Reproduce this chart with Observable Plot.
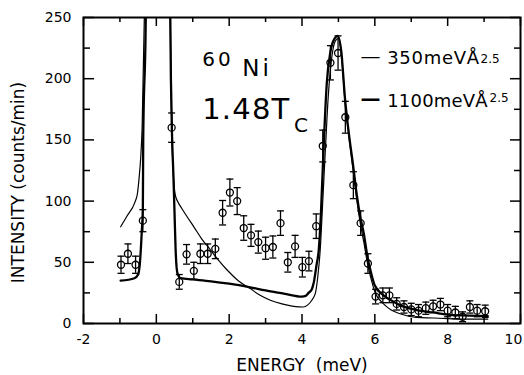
<!DOCTYPE html>
<html><head><meta charset="utf-8">
<script src="https://cdn.jsdelivr.net/npm/d3@7"></script>
<script src="https://cdn.jsdelivr.net/npm/@observablehq/plot@0.6"></script>
<style>body{margin:0;background:#fff} #chart svg{font-family:"DejaVu Sans",sans-serif}</style>
</head><body><div id="chart"></div>
<script>
// measured points (energy meV, intensity counts/min, error)
const energy = [-0.97,-0.78,-0.57,-0.37,0.42,0.63,0.83,1.03,1.21,1.41,1.62,1.82,2.02,2.22,2.40,2.60,2.80,3.00,3.20,3.41,3.61,3.81,4.01,4.19,4.39,4.57,4.78,4.99,5.19,5.41,5.61,5.81,6.02,6.22,6.40,6.60,6.80,7.00,7.20,7.40,7.60,7.80,8.00,8.21,8.41,8.61,8.81,9.03];
const intensity = [48,57,48,84,160,34,56.5,43,57,57,61,90.5,107,100,78,72,66.5,61.5,62.5,82,50,63,46,51,79.5,145,213,221,168.5,113,82,49,22,23,23,16,13.5,11.5,10.5,12.5,14,15.5,10.5,9,5.5,13.5,10.5,10];
const errors = [7,8,7,9,12,6,8,7,8,8,8,10,11,11,10,9,9,9,9,10,8,9,8,8,10,13,14,14,13,11,10,8,6,6,6,5,5,5,5,5,5,5,5,5,4,5,5,5];

// model curves: 350 meV Å^2.5 (thin) and 1100 meV Å^2.5 (thick)
const thinLeftX = [-0.98,-0.8,-0.59,-0.52,-0.47,-0.43,-0.39,-0.33,-0.30];
const thinLeftY = [79,88,99,106,120,135,160,250,320];
const thinRightX = [0.36,0.40,0.43,0.47,0.52,0.58,0.7,0.85,1.03,1.25,1.49,1.7,1.95,2.25,2.58,2.85,3.13,3.45,3.77,4.04,4.15,4.27,4.37,4.44,4.5,4.57,4.64,4.72,4.82,4.92,5.0,5.08,5.18,5.3,5.4,5.5,5.6,5.7,5.8,5.9,6.0,6.24,6.45,6.69,7.15,7.6,8.0,8.5,9.1];
const thinRightY = [320,200,150,120,105,100,94,87,79,69,60,52,43.5,35,28.5,23,19,16,14,13.5,15,19,25,40,60,100,141,185,218,231,233,220,182,150,126,102,82,66,49,36,26,16,11,8,5,4.5,4,3.5,3.5];
const thickLeftX = [-0.98,-0.6,-0.5,-0.45,-0.4,-0.37,-0.36,-0.29,-0.27];
const thickLeftY = [35,37,40,50,75,95,150,250,320];
const thickRightX = [0.36,0.40,0.43,0.47,0.50,0.53,0.58,0.67,1.0,1.5,2.0,2.58,3.0,3.5,4.0,4.1,4.18,4.27,4.32,4.4,4.46,4.52,4.59,4.68,4.78,4.9,4.98,5.08,5.18,5.3,5.4,5.5,5.6,5.7,5.8,5.9,6.0,6.24,6.5,6.69,7.15,7.6,8.06,8.6,9.1];
const thickRightY = [320,200,155,120,90,60,41,37,36,34.5,32.5,29.5,27,24.5,22,22.5,25,28,33,48,60,90,141,196,222,233,235,222,184,152,130,106,87,73,54,41,31,23,18,15,11,9,7,6.5,6];

// ticks and labels
const xMajor = [-2,0,2,4,6,8,10];
const xMinor = [-1,1,3,5,7,9];
const yMajor = [0,50,100,150,200,250];
const yMinor = [25,75,125,175,225];

const points = energy.map((x,i)=>({x, y: intensity[i], e: errors[i]}));
const curve = (xs, ys, s) => xs.map((x,i)=>({x, y: ys[i], s}));
const thin = [...curve(thinLeftX, thinLeftY, "L"), ...curve(thinRightX, thinRightY, "R")];
const thick = [...curve(thickLeftX, thickLeftY, "L"), ...curve(thickRightX, thickRightY, "R")];

const W=524, H=375, mL=83, mR=4, mT=17, mB=52;
const fw = W-mL-mR, fh = H-mT-mB;
const capSymbol = {draw(ctx, size){const r=Math.sqrt(size/Math.PI); ctx.moveTo(-r,0); ctx.lineTo(r,0);}};
const label = (t, dx, dy, size, extra={}) => Plot.text([t], {text: d=>d, frameAnchor:"top-left", dx, dy, fontSize: size, textAnchor:"start", lineAnchor:"bottom", fill:"black", ...extra});
const lastX = xMajor[xMajor.length-1];

const chart = Plot.plot({
  width: W, height: H,
  marginLeft: mL, marginRight: mR, marginTop: mT, marginBottom: mB,
  style: {fontFamily: "DejaVu Sans", fontSize: "14px", background: "white", color: "black"},
  x: {domain: [-2, 10]},
  y: {domain: [0, 250]},
  marks: [
    Plot.axisX(xMajor.filter(d=>d!==lastX), {tickSize: 0, tickPadding: 11, label: null, tickFormat: d=>String(d), fontSize: 14}),
    Plot.axisX([lastX], {tickSize: 0, tickPadding: 11, label: null, tickFormat: d=>String(d), fontSize: 14, dx: -7}),
    Plot.axisY(yMajor, {tickSize: 0, tickPadding: 12, label: null, tickFormat: d=>String(d), fontSize: 14}),
    Plot.ruleX(xMajor, {insetTop: fh-9, strokeWidth: 1.5}),
    Plot.ruleX(xMinor, {insetTop: fh-5, strokeWidth: 1.5}),
    Plot.ruleX(xMajor, {insetBottom: fh-9, strokeWidth: 1.5}),
    Plot.ruleX(xMinor, {insetBottom: fh-5, strokeWidth: 1.5}),
    Plot.ruleY(yMajor, {insetRight: fw-11, strokeWidth: 1.5}),
    Plot.ruleY(yMinor, {insetRight: fw-7, strokeWidth: 1.5}),
    Plot.ruleY(yMajor, {insetLeft: fw-10, strokeWidth: 1.5}),
    Plot.ruleY(yMinor, {insetLeft: fw-6, strokeWidth: 1.5}),
    Plot.frame({stroke: "black", strokeWidth: 2}),
    Plot.line(thin, {x:"x", y:"y", z:"s", stroke:"black", strokeWidth:1.2, curve:"monotone-x", clip:true}),
    Plot.line(thick, {x:"x", y:"y", z:"s", stroke:"black", strokeWidth:2.3, curve:"monotone-x", clip:true}),
    Plot.ruleX(points, {x:"x", y1: d=>d.y-d.e, y2: d=>d.y+d.e, stroke:"black", strokeWidth:1.3}),
    Plot.dot(points, {x:"x", y: d=>d.y+d.e, symbol: capSymbol, r: 3.5, stroke:"black", strokeWidth:1.3}),
    Plot.dot(points, {x:"x", y: d=>d.y-d.e, symbol: capSymbol, r: 3.5, stroke:"black", strokeWidth:1.3}),
    Plot.dot(points, {x:"x", y:"y", r:3.5, stroke:"black", strokeWidth:1.3, fill:"none"}),
    label("60", 118.7, 48, 20),
    label("Ni", 158.7, 58, 23),
    label("1.48T", 118.7, 101, 29),
    label("C", 210.5, 114.7, 20),
    label("—", 277, 39, 20, {lineAnchor:"middle"}),
    label("—", 277, 81.3, 20, {lineAnchor:"middle", fontWeight:"bold"}),
    label("350meVÅ", 303.7, 46.3, 18),
    label("2.5", 397, 45, 12),
    label("1100meVÅ", 303.7, 89, 18),
    label("2.5", 406, 84, 12),
    Plot.text(["ENERGY  (meV)"], {text: d=>d, frameAnchor:"bottom", dy: 47, lineAnchor:"bottom", textAnchor:"middle", fontSize: 17, fill:"black"}),
    Plot.text(["INTENSITY (counts/min)"], {text: d=>d, frameAnchor:"left", dx: -65, dy: 12, rotate: -90, lineAnchor:"middle", textAnchor:"middle", fontSize: 17, fill:"black"})
  ]
});
document.getElementById("chart").append(chart);
const sel = (t) => d3.select(chart).selectAll("text").filter(function(){return this.textContent===t;});
sel("60").attr("letter-spacing", 3);
sel("Ni").attr("letter-spacing", 3);
sel("1.48T").attr("letter-spacing", 1.2);
sel("350meVÅ").attr("letter-spacing", 0.7);
sel("1100meVÅ").attr("letter-spacing", 0.2);
</script>
</body></html>
